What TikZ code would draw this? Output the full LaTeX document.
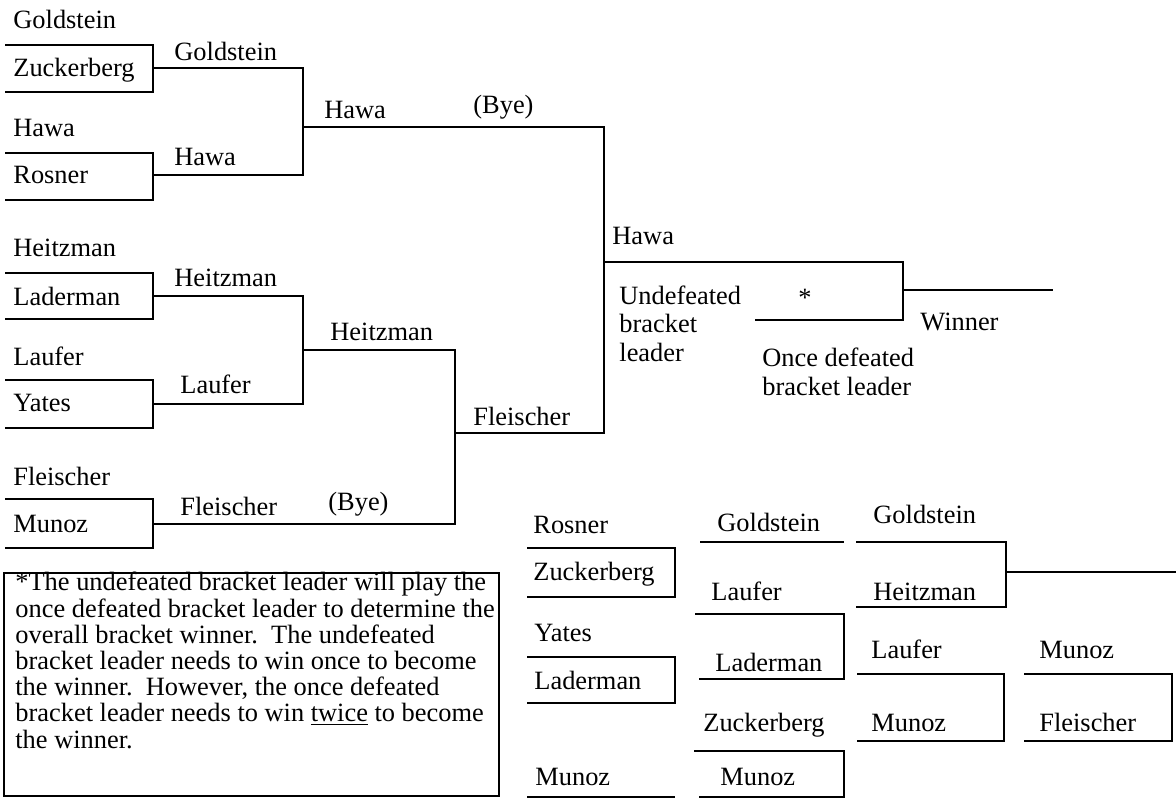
\documentclass[tikz,border=0pt]{standalone}
\usepackage{fontspec}
\setmainfont{Liberation Serif}
\usetikzlibrary{positioning}

\tikzset{
  bline/.style={line width=1.4pt},
  lbl/.style={anchor=base west, inner sep=0pt, font=\fontsize{13.2}{14.2}\selectfont},
  multi/.style={lbl, align=left}
}

\begin{document}
\begin{tikzpicture}[x=0.5pt, y=-0.5pt]
	\useasboundingbox (0,0) rectangle (1176,799);
	% upper bracket
	\draw[bline] (5,45) -- (153,45) -- (153,92) -- (5,92);
	\draw[bline] (5,153) -- (153,153) -- (153,200) -- (5,200);
	\draw[bline] (153,68) -- (303,68) -- (303,175) -- (153,175);
	\draw[bline] (5,273) -- (153,273) -- (153,319) -- (5,319);
	\draw[bline] (5,380) -- (153,380) -- (153,428) -- (5,428);
	\draw[bline] (153,296) -- (303,296) -- (303,404) -- (153,404);
	\draw[bline] (5,499) -- (153,499) -- (153,548) -- (5,548);
	\draw[bline] (303,350) -- (455,350) -- (455,524) -- (153,524);
	\draw[bline] (303,127) -- (604,127) -- (604,433) -- (455,433);
	\draw[bline] (604,262) -- (903,262) -- (903,320) -- (755,320);
	\draw[bline] (903,290) -- (1053,290);
	\node[lbl] (gold1) at (13,28) {Goldstein};
	\node[lbl] (zuck1) at (13,76) {Zuckerberg};
	\node[lbl] (gold2) at (174,60) {Goldstein};
	\node[lbl] (hawa1) at (13,136) {Hawa};
	\node[lbl] (rosn1) at (13,183) {Rosner};
	\node[lbl] (hawa2) at (174,165) {Hawa};
	\node[lbl] (hawa3) at (324,118) {Hawa};
	\node[lbl] (bye1) at (473,113) {(Bye)};
	\node[lbl] (heit1) at (13,256) {Heitzman};
	\node[lbl] (lade1) at (13,305) {Laderman};
	\node[lbl] (heit2) at (174,286) {Heitzman};
	\node[lbl] (lauf1) at (13,365) {Laufer};
	\node[lbl] (yate1) at (13,411) {Yates};
	\node[lbl] (lauf2) at (180,393) {Laufer};
	\node[lbl] (heit3) at (330,340) {Heitzman};
	\node[lbl] (flei1) at (473,425) {Fleischer};
	\node[lbl] (flei2) at (13,485) {Fleischer};
	\node[lbl] (muno1) at (13,532) {Munoz};
	\node[lbl] (flei3) at (180,515) {Fleischer};
	\node[lbl] (bye2) at (328,510) {(Bye)};
	\node[lbl] (hawa4) at (612,244) {Hawa};
	\node[multi] (undef) at (619,361) {Undefeated\\bracket\\leader};
	\node[lbl] (star) at (798,306) {*};
	\node[lbl] (winner) at (920,330) {Winner};
	\node[multi, font=\fontsize{13.2}{14.5}\selectfont] (oncedef) at (762,395) {Once defeated\\bracket leader};
	% note
	\draw[bline] (4,573) rectangle (499,796);
	\node[multi, font=\fontsize{13.2}{13.1}\selectfont] (note) at (15,748) {*The undefeated bracket leader will play the\\once defeated bracket leader to determine the\\overall bracket winner.\ \ The undefeated\\bracket leader needs to win once to become\\the winner.\ \ However, the once defeated\\bracket leader needs to win \underline{twice} to become\\the winner.};
	% lower bracket
	\draw[bline] (527,548) -- (675,548) -- (675,597) -- (527,597);
	\draw[bline] (527,657) -- (675,657) -- (675,703) -- (527,703);
	\draw[bline] (527,797) -- (675,797);
	\draw[bline] (700,542) -- (844,542);
	\draw[bline] (695,614) -- (844,614) -- (844,679) -- (699,679);
	\draw[bline] (694,751) -- (844,751) -- (844,797) -- (699,797);
	\draw[bline] (856,542) -- (1006,542) -- (1006,607) -- (856,607);
	\draw[bline] (1006,572) -- (1176,572);
	\draw[bline] (857,674) -- (1004,674) -- (1004,741) -- (857,741);
	\draw[bline] (1024,674) -- (1172,674) -- (1172,741) -- (1024,741);
	\node[lbl] (rosn2) at (533,533) {Rosner};
	\node[lbl] (zuck2) at (533,580) {Zuckerberg};
	\node[lbl] (yate2) at (534,641) {Yates};
	\node[lbl] (lade2) at (534,689) {Laderman};
	\node[lbl] (muno2) at (535,785) {Munoz};
	\node[lbl] (gold3) at (717,531) {Goldstein};
	\node[lbl] (lauf3) at (711,600) {Laufer};
	\node[lbl] (lade3) at (715,671) {Laderman};
	\node[lbl] (zuck3) at (703,731) {Zuckerberg};
	\node[lbl] (muno3) at (720,785) {Munoz};
	\node[lbl] (gold4) at (873,523) {Goldstein};
	\node[lbl] (heit4) at (873,600) {Heitzman};
	\node[lbl] (lauf4) at (871,658) {Laufer};
	\node[lbl] (muno4) at (871,731) {Munoz};
	\node[lbl] (muno5) at (1039,658) {Munoz};
	\node[lbl] (flei4) at (1039,731) {Fleischer};
\end{tikzpicture}
\end{document}
